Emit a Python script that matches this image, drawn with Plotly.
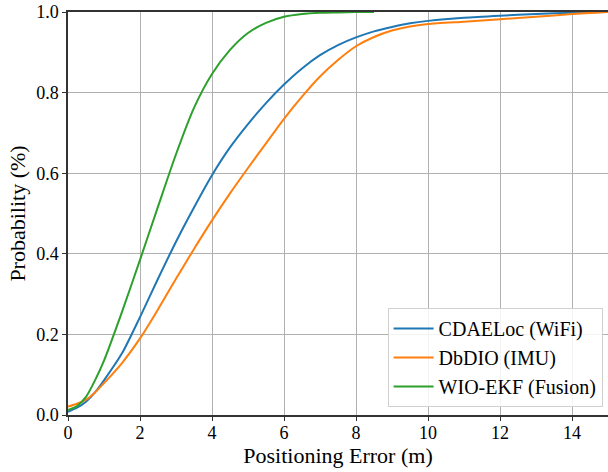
import plotly.graph_objects as go

x_blue = [0, 0.25, 0.5, 0.75, 1, 1.5, 2, 2.5, 3, 3.5, 4, 4.5, 5, 5.5, 6, 6.5, 7, 7.5, 8, 8.5, 9, 9.5, 10, 11, 12, 13, 14, 15]
y_blue = [0.008, 0.018, 0.033, 0.056, 0.086, 0.153, 0.243, 0.338, 0.43, 0.515, 0.595, 0.664, 0.722, 0.774, 0.82, 0.86, 0.893, 0.918, 0.937, 0.952, 0.963, 0.972, 0.978, 0.986, 0.991, 0.995, 0.998, 1.0]

x_orange = [0, 0.25, 0.5, 0.75, 1, 1.5, 2, 2.5, 3, 3.5, 4, 4.5, 5, 5.5, 6, 6.5, 7, 7.5, 8, 8.5, 9, 9.5, 10, 11, 12, 13, 14, 15]
y_orange = [0.021, 0.028, 0.038, 0.056, 0.079, 0.129, 0.19, 0.262, 0.338, 0.412, 0.483, 0.55, 0.613, 0.674, 0.735, 0.79, 0.84, 0.881, 0.915, 0.938, 0.954, 0.964, 0.97, 0.976, 0.982, 0.988, 0.995, 1.0]

x_green = [0, 0.25, 0.5, 0.75, 1, 1.5, 2, 2.5, 3, 3.5, 4, 4.5, 5, 5.5, 6, 6.5, 7, 7.5, 8, 8.5]
y_green = [0.012, 0.022, 0.045, 0.086, 0.135, 0.256, 0.385, 0.517, 0.647, 0.762, 0.846, 0.906, 0.948, 0.973, 0.988, 0.995, 0.998, 0.999, 1.0, 1.0]

names = ["CDAELoc (WiFi)", "DbDIO (IMU)", "WIO-EKF (Fusion)"]
colors = ["#1f77b4", "#ff7f0e", "#2ca02c"]

x_ticks = [0, 2, 4, 6, 8, 10, 12, 14]
y_ticks = [0.0, 0.2, 0.4, 0.6, 0.8, 1.0]

FONT = "Liberation Serif, DejaVu Serif, serif"

fig = go.Figure()
for xs, ys, n, c in [(x_blue, y_blue, names[0], colors[0]),
                     (x_orange, y_orange, names[1], colors[1]),
                     (x_green, y_green, names[2], colors[2])]:
    fig.add_trace(go.Scatter(x=xs, y=ys, mode="lines", name=n,
                             line=dict(color=c, width=2, shape="spline", smoothing=0.7)))

fig.update_layout(
    width=608, height=472,
    margin=dict(l=68, r=0, t=12, b=57),
    paper_bgcolor="white", plot_bgcolor="white",
    font=dict(family=FONT, color="black", size=18),
    showlegend=True,
    legend=dict(x=0.99, y=0.02, xanchor="right", yanchor="bottom",
                bgcolor="rgba(255,255,255,0.85)", bordercolor="#d0d0d0", borderwidth=1,
                font=dict(family=FONT, size=20), itemwidth=40,
                tracegroupgap=2),
    xaxis=dict(range=[0, 15], tickvals=x_ticks, ticktext=[str(t) for t in x_ticks],
               showgrid=True, gridcolor="#b0b0b0", gridwidth=1,
               showline=True, linecolor="#333333", linewidth=1.5, mirror=True,
               ticks="outside", ticklen=4, tickcolor="#333333",
               tickfont=dict(family=FONT, size=18), ticklabelstandoff=-3,
               title=dict(text="Positioning Error (m)", font=dict(family=FONT, size=22), standoff=2),
               automargin=False, zeroline=False),
    yaxis=dict(range=[0, 1], tickvals=y_ticks, ticktext=[f"{t:.1f}" for t in y_ticks],
               showgrid=True, gridcolor="#b0b0b0", gridwidth=1,
               showline=True, linecolor="#333333", linewidth=1.5,
               ticks="outside", ticklen=4, tickcolor="#333333",
               tickfont=dict(family=FONT, size=18),
               title=dict(text="Probability (%)", font=dict(family=FONT, size=22), standoff=4),
               automargin=False, zeroline=False),
)

fig.write_html("out.html", config={"displayModeBar": False},
               post_script="document.body.style.margin='0';document.body.style.overflow='hidden';")
